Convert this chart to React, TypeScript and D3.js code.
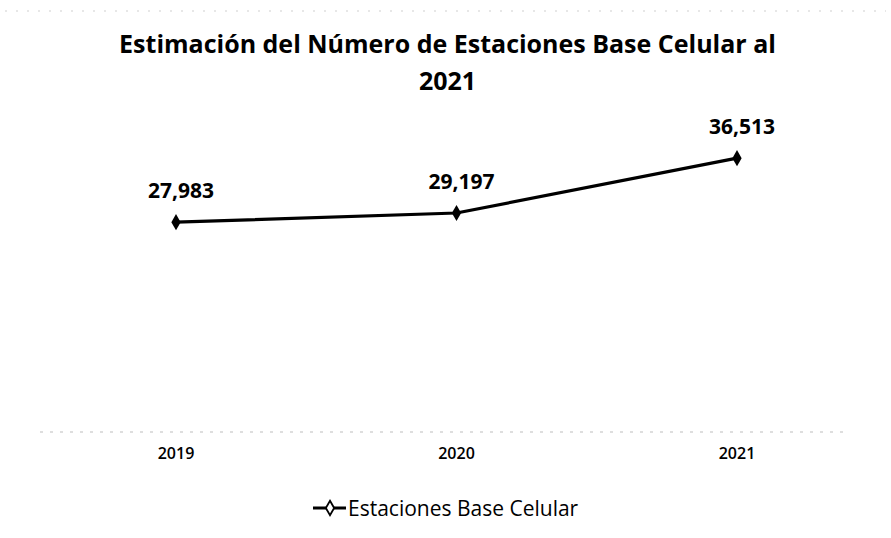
import React from "react";
import * as d3 from "d3";

const years = ["2019", "2020", "2021"];
const values = [27983, 29197, 36513];
const valueLabels = ["27,983", "29,197", "36,513"];
const titleLines = ["Estimación del Número de Estaciones Base Celular al", "2021"];
const seriesName = "Estaciones Base Celular";

const W = 891;
const H = 538;
const FONT = "'Open Sans', 'Noto Sans', sans-serif";

export default function App() {
  const x = d3.scalePoint<string>().domain(years).range([176, 737]);
  const y = d3.scaleLinear().domain([0, 40000]).range([432, 132]);
  const pts: [number, number][] = years.map((yr, i) => [x(yr)!, y(values[i])]);
  const line = d3.line()(pts) || "";
  const diamond = d3.symbol().type(d3.symbolDiamond).size(75)() || "";
  const legendDiamond = d3.symbol().type(d3.symbolDiamond).size(60)() || "";

  return (
    <svg
      width={W}
      height={H}
      style={{ position: "absolute", left: 0, top: 0, background: "#fff", display: "block" }}
    >
      <rect x={0} y={0} width={W} height={H} fill="#fff" />
      {/* faint scan border at top */}
      <line x1={5} x2={886} y1={11} y2={11} stroke="#cfcfcf" strokeWidth={1} strokeDasharray="2,9" />
      {/* title */}
      {titleLines.map((t, i) => (
        <text
          key={i}
          x={W / 2 + 2}
          y={53 + i * 37}
          textAnchor="middle"
          fontFamily={FONT}
          fontWeight={700}
          fontSize={25}
          fill="#000"
        >
          {t}
        </text>
      ))}
      {/* category axis line (faint, scanned) */}
      <line x1={40} x2={850} y1={y(0)} y2={y(0)} stroke="#bdbdbd" strokeWidth={1} strokeDasharray="3,7" />
      {/* series line */}
      <path d={line} fill="none" stroke="#000" strokeWidth={3.2} strokeLinejoin="round" />
      {pts.map((p, i) => (
        <path key={i} d={diamond} transform={`translate(${p[0]},${p[1]})`} fill="#000" />
      ))}
      {/* data labels */}
      {pts.map((p, i) => (
        <text
          key={i}
          x={p[0] + 5}
          y={p[1] - 24}
          textAnchor="middle"
          fontFamily={FONT}
          fontWeight={700}
          fontSize={21}
          fill="#000"
        >
          {valueLabels[i]}
        </text>
      ))}
      {/* x tick labels */}
      {years.map((yr) => (
        <text
          key={yr}
          x={x(yr)!}
          y={459}
          textAnchor="middle"
          fontFamily={FONT}
          fontWeight={600}
          fontSize={16}
          fill="#000"
        >
          {yr}
        </text>
      ))}
      {/* legend */}
      <g transform="translate(0,508)">
        <line x1={313} x2={346} y1={0} y2={0} stroke="#000" strokeWidth={3.2} />
        <path d={legendDiamond} transform="translate(330,0)" fill="#fff" stroke="#000" strokeWidth={1.8} />
        <text x={348} y={7.5} fontFamily={FONT} fontSize={21} fill="#000">
          {seriesName}
        </text>
      </g>
    </svg>
  );
}
